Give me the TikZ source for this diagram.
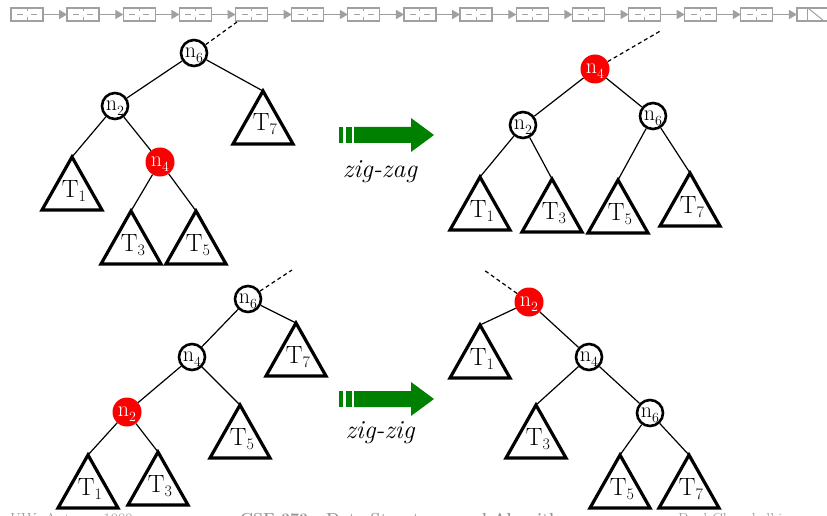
\documentclass[tikz,border=0pt]{standalone}
\usepackage{fontspec}
\usetikzlibrary{calc,arrows.meta}
\definecolor{listgray}{RGB}{160,160,160}
\definecolor{hotred}{RGB}{250,0,0}
\definecolor{arrowgreen}{RGB}{0,128,0}
\definecolor{footgray}{RGB}{150,150,150}
% key label: n with a low subscript that does not change the box size
\newcommand\keylab[1]{n\raisebox{-5pt}[0pt][0pt]{\fontsize{14}{14}\selectfont #1}}
\newcommand\treelab[1]{T\raisebox{-4pt}[0pt][0pt]{\fontsize{16}{16}\selectfont #1}}
\tikzset{
  keynode/.style={circle, draw=black, line width=2.6pt, minimum size=26pt,
    inner sep=0pt, fill=white, font=\fontsize{22}{22}\selectfont},
  hotnode/.style={circle, fill=hotred, draw=none, minimum size=29pt,
    inner sep=0pt, text=white, font=\fontsize{22}{22}\selectfont},
  edge/.style={line width=1.2pt},
  parentlink/.style={line width=1.2pt, dash pattern=on 4pt off 3pt},
  tri/.style={line width=3.2pt, line join=miter},
  tlabel/.style={font=\fontsize{25}{25}\selectfont, anchor=base, inner sep=0pt},
  listbox/.style={draw=listgray, line width=1.3pt},
  listlink/.style={draw=listgray, line width=1.3pt,
    -{Triangle[length=8pt,width=9pt]}},
  rotlabel/.style={font=\fontsize{26}{26}\selectfont\itshape, anchor=base, inner sep=0pt},
  footer/.style={text=footgray, anchor=base west, inner sep=0pt,
    font=\fontsize{16}{16}\selectfont},
}
% a subtree: apex coordinate, triangle and its label
\newcommand\subtri[4]{%
  \coordinate (#1) at (#2,#3);
  \draw[tri] (#1) -- ++(30,53) -- ++(-60,0) -- cycle;
  \node[tlabel] (#1-lab) at ($(#1)+(2,40)$) {\treelab{#4}};
}
% the fat green rotation arrow, centred vertically on #1
\newcommand\rotarrow[1]{%
  \begin{scope}[shift={(0,#1)}]
    \fill[arrowgreen] (339,-8) rectangle (343,8);
    \fill[arrowgreen] (346,-8) rectangle (352,8);
    \fill[arrowgreen] (354,-8) -- (411,-8) -- (411,-17) -- (434,0)
      -- (411,17) -- (411,8) -- (354,8) -- cycle;
  \end{scope}
}
\begin{document}
\begin{tikzpicture}[x=1pt,y=-1pt]
\clip (0,0) rectangle (827,516);
\fill[white] (0,0) rectangle (827,516);

% linked list strip along the top
\foreach \i in {0,...,14} {
  \pgfmathsetmacro\bx{11+56.14*\i}
  \draw[listbox] (\bx,8) rectangle ++(32,13);
  \ifnum\i<14
    \draw[listgray, line width=1pt] (\bx+16,8) -- ++(0,3) (\bx+16,17) -- ++(0,4)
      (\bx+6,14.5) -- ++(6,0) (\bx+20,14.5) -- ++(6,0);
    \draw[listlink] (\bx+32,14.5) -- (\bx+56.14,14.5);
  \else
    \draw[listgray, line width=1pt] (\bx+11,8) -- (\bx+11,21);
    \draw[listgray, line width=1pt] (\bx+11,8) -- (\bx+27,21);
  \fi
}

% ---- zig-zag, before ----
\node[keynode] (a6) at (194,53) {\keylab{6}};
\node[keynode] (a2) at (115,106) {\keylab{2}};
\node[hotnode] (a4) at (160,162) {\keylab{4}};
\subtri{aT7}{263}{91}{7}
\subtri{aT1}{72}{157}{1}
\subtri{aT3}{131}{211}{3}
\subtri{aT5}{196}{211}{5}
\coordinate (aup) at (237,22);
\draw[parentlink] (a6) -- (aup);
\draw[edge] (a6) -- (a2);
\draw[edge] (a6) -- (aT7);
\draw[edge] (a2) -- (aT1);
\draw[edge] (a2) -- (a4);
\draw[edge] (a4) -- (aT3);
\draw[edge] (a4) -- (aT5);

% ---- zig-zag, after ----
\node[hotnode] (b4) at (595,69) {\keylab{4}};
\node[keynode] (b2) at (523,125) {\keylab{2}};
\node[keynode] (b6) at (653,116) {\keylab{6}};
\subtri{bT1}{480}{177}{1}
\subtri{bT3}{552}{179}{3}
\subtri{bT5}{618}{180}{5}
\subtri{bT7}{690}{173}{7}
\coordinate (bup) at (662,30);
\draw[parentlink] (b4) -- (bup);
\draw[edge] (b4) -- (b2);
\draw[edge] (b4) -- (b6);
\draw[edge] (b2) -- (bT1);
\draw[edge] (b2) -- (bT3);
\draw[edge] (b6) -- (bT5);
\draw[edge] (b6) -- (bT7);

% ---- zig-zig, before ----
\node[keynode] (c6) at (248,299) {\keylab{6}};
\node[keynode] (c4) at (192,357) {\keylab{4}};
\node[hotnode] (c2) at (127,412) {\keylab{2}};
\subtri{cT7}{296}{323}{7}
\subtri{cT5}{240}{405}{5}
\subtri{cT1}{88}{455}{1}
\subtri{cT3}{158}{452}{3}
\coordinate (cup) at (292,270);
\draw[parentlink] (c6) -- (cup);
\draw[edge] (c6) -- (c4);
\draw[edge] (c6) -- (cT7);
\draw[edge] (c4) -- (c2);
\draw[edge] (c4) -- (cT5);
\draw[edge] (c2) -- (cT1);
\draw[edge] (c2) -- (cT3);

% ---- zig-zig, after ----
\node[hotnode] (d2) at (529,302) {\keylab{2}};
\node[keynode] (d4) at (589,357) {\keylab{4}};
\node[keynode] (d6) at (650,413) {\keylab{6}};
\subtri{dT1}{480}{325}{1}
\subtri{dT3}{536}{405}{3}
\subtri{dT5}{620}{455}{5}
\subtri{dT7}{689}{455}{7}
\coordinate (dup) at (484,270);
\draw[parentlink] (d2) -- (dup);
\draw[edge] (d2) -- (dT1);
\draw[edge] (d2) -- (d4);
\draw[edge] (d4) -- (dT3);
\draw[edge] (d4) -- (d6);
\draw[edge] (d6) -- (dT5);
\draw[edge] (d6) -- (dT7);

% rotation arrows and their names
\rotarrow{135}
\node[rotlabel] (zz1) at (380,177) {zig-zag};
\rotarrow{399}
\node[rotlabel] (zz2) at (380,438) {zig-zig};

% footer line, cut by the page edge
\node[footer] (f1) at (10,524) {UW, Autumn 1999};
\node[footer] (f2) at (240,524) {\bfseries CSE 373 - Data Structures and Algorithms};
\node[footer] (f3) at (678,524) {Paul Chenchelkis};
\end{tikzpicture}
\end{document}
